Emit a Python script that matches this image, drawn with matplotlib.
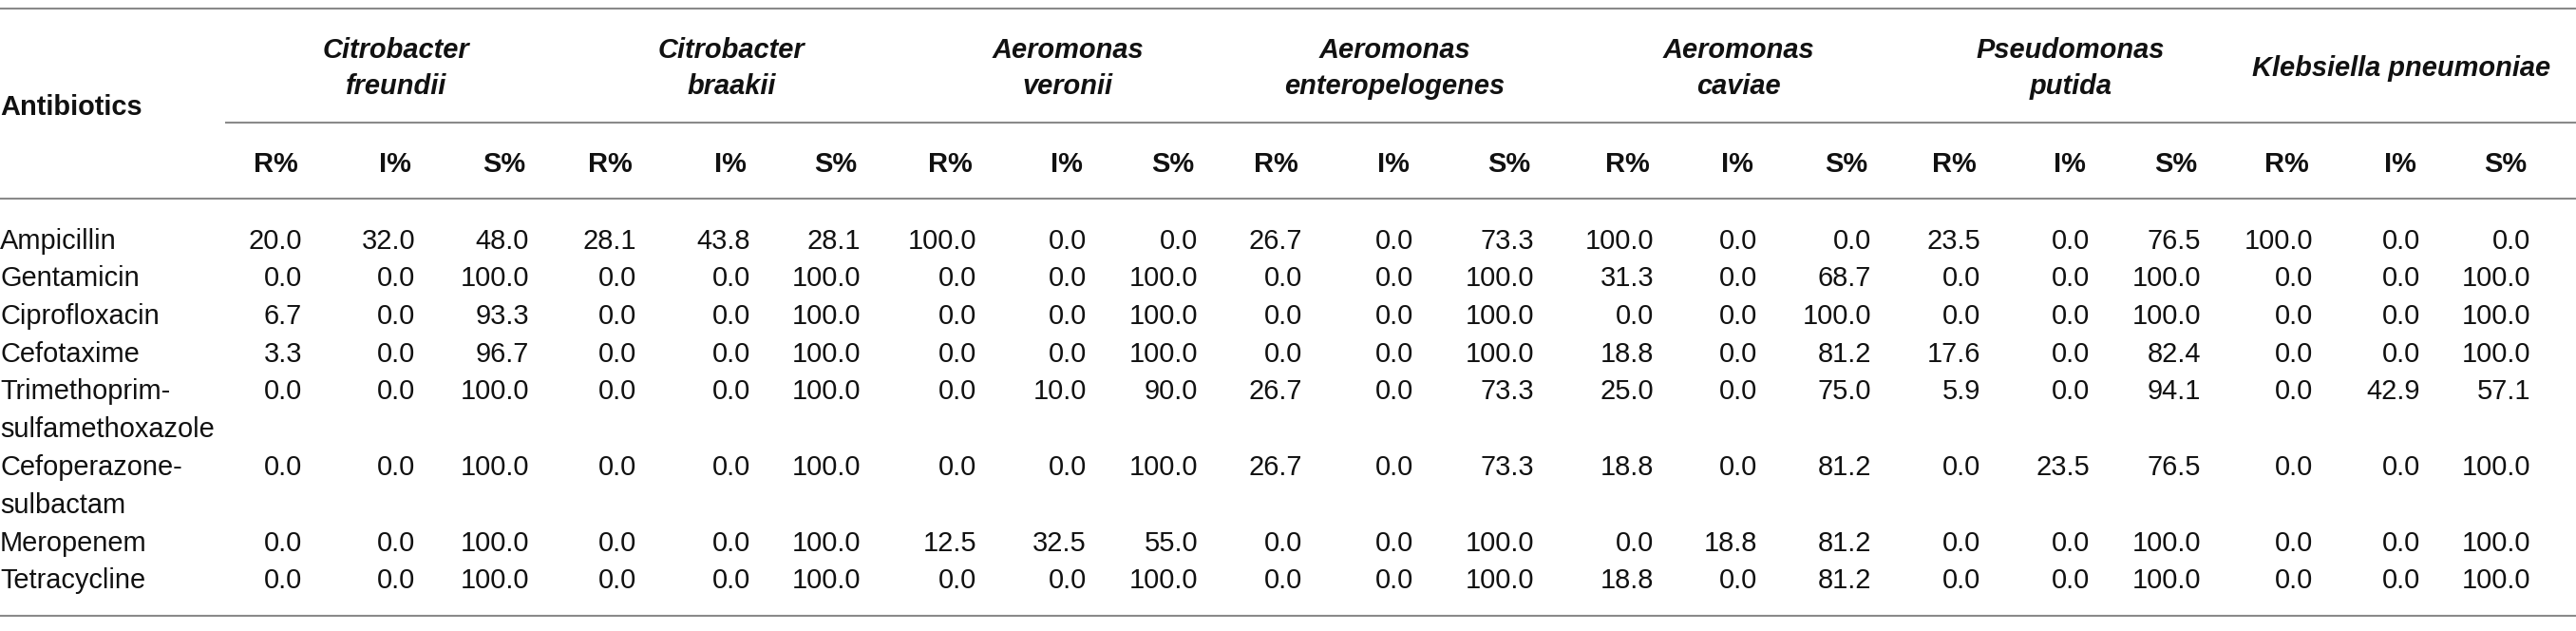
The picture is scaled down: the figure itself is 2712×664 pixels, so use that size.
import numpy as np
import matplotlib
matplotlib.use('Agg')
import matplotlib.pyplot as plt

# Table content
species = ['Citrobacter\nfreundii', 'Citrobacter\nbraakii', 'Aeromonas\nveronii',
           'Aeromonas\nenteropelogenes', 'Aeromonas\ncaviae', 'Pseudomonas\nputida',
           'Klebsiella pneumoniae']
sub_cols = ['R%', 'I%', 'S%']
antibiotics = ['Ampicillin', 'Gentamicin', 'Ciprofloxacin', 'Cefotaxime',
               'Trimethoprim-\nsulfamethoxazole', 'Cefoperazone-\nsulbactam',
               'Meropenem', 'Tetracycline']

freundii_r = [20.0, 0.0, 6.7, 3.3, 0.0, 0.0, 0.0, 0.0]
freundii_i = [32.0, 0.0, 0.0, 0.0, 0.0, 0.0, 0.0, 0.0]
freundii_s = [48.0, 100.0, 93.3, 96.7, 100.0, 100.0, 100.0, 100.0]

braakii_r = [28.1, 0.0, 0.0, 0.0, 0.0, 0.0, 0.0, 0.0]
braakii_i = [43.8, 0.0, 0.0, 0.0, 0.0, 0.0, 0.0, 0.0]
braakii_s = [28.1, 100.0, 100.0, 100.0, 100.0, 100.0, 100.0, 100.0]

veronii_r = [100.0, 0.0, 0.0, 0.0, 0.0, 0.0, 12.5, 0.0]
veronii_i = [0.0, 0.0, 0.0, 0.0, 10.0, 0.0, 32.5, 0.0]
veronii_s = [0.0, 100.0, 100.0, 100.0, 90.0, 100.0, 55.0, 100.0]

entero_r = [26.7, 0.0, 0.0, 0.0, 26.7, 26.7, 0.0, 0.0]
entero_i = [0.0, 0.0, 0.0, 0.0, 0.0, 0.0, 0.0, 0.0]
entero_s = [73.3, 100.0, 100.0, 100.0, 73.3, 73.3, 100.0, 100.0]

caviae_r = [100.0, 31.3, 0.0, 18.8, 25.0, 18.8, 0.0, 18.8]
caviae_i = [0.0, 0.0, 0.0, 0.0, 0.0, 0.0, 18.8, 0.0]
caviae_s = [0.0, 68.7, 100.0, 81.2, 75.0, 81.2, 81.2, 81.2]

putida_r = [23.5, 0.0, 0.0, 17.6, 5.9, 0.0, 0.0, 0.0]
putida_i = [0.0, 0.0, 0.0, 0.0, 0.0, 23.5, 0.0, 0.0]
putida_s = [76.5, 100.0, 100.0, 82.4, 94.1, 76.5, 100.0, 100.0]

kpneu_r = [100.0, 0.0, 0.0, 0.0, 0.0, 0.0, 0.0, 0.0]
kpneu_i = [0.0, 0.0, 0.0, 0.0, 42.9, 0.0, 0.0, 0.0]
kpneu_s = [0.0, 100.0, 100.0, 100.0, 57.1, 100.0, 100.0, 100.0]

columns = [freundii_r, freundii_i, freundii_s, braakii_r, braakii_i, braakii_s,
           veronii_r, veronii_i, veronii_s, entero_r, entero_i, entero_s,
           caviae_r, caviae_i, caviae_s, putida_r, putida_i, putida_s,
           kpneu_r, kpneu_i, kpneu_s]

# Layout (pixels)
W, H = 2712, 664
col_right = [318, 437, 557, 670, 790, 906, 1028, 1144, 1261, 1371, 1488,
             1615, 1741, 1850, 1970, 2085, 2200, 2317, 2435, 2548, 2664]
fs = 20.9
fam = ['Liberation Sans', 'DejaVu Sans']
line_c = '#8a8a8a'
txt_c = '#111111'
row_h = 39.75

fig = plt.figure(figsize=(W / 100, H / 100), dpi=100)
ax = fig.add_axes([0, 0, 1, 1])
ax.set_xlim(0, W)
ax.set_ylim(H, 0)
ax.axis('off')

# rules
ax.hlines([9, 209, 648], 0, W, color=line_c, lw=1.5)
ax.hlines(128.5, 237, W, color=line_c, lw=1.5)

# header
ax.text(0, 121, 'Antibiotics', fontsize=fs, fontweight='bold', family=fam,
        color=txt_c, va='baseline', ha='left')
for g, name in enumerate(species):
    cx = col_right[g * 3 + 1] - 20
    lines = name.split('\n')
    if len(lines) == 2:
        ys = [61, 99]
    else:
        ys = [80]
    for ln, y in zip(lines, ys):
        ax.text(cx, y, ln, fontsize=fs, fontweight='bold', style='italic',
                family=fam, color=txt_c, va='baseline', ha='center')
    for k, sc in enumerate(sub_cols):
        ax.text(col_right[g * 3 + k] - 4, 181, sc, fontsize=fs, fontweight='bold',
                family=fam, color=txt_c, va='baseline', ha='right')

# body
line_idx = 0
for r, ab in enumerate(antibiotics):
    base = 261.5 + row_h * line_idx
    for j, ln in enumerate(ab.split('\n')):
        ax.text(0, base + row_h * j, ln, fontsize=fs, family=fam, color=txt_c,
                va='baseline', ha='left')
    for c, vals in enumerate(columns):
        ax.text(col_right[c], base, f'{vals[r]:.1f}', fontsize=fs, family=fam,
                color=txt_c, va='baseline', ha='right')
    line_idx += len(ab.split('\n'))

fig.savefig('out.png', dpi=100)
